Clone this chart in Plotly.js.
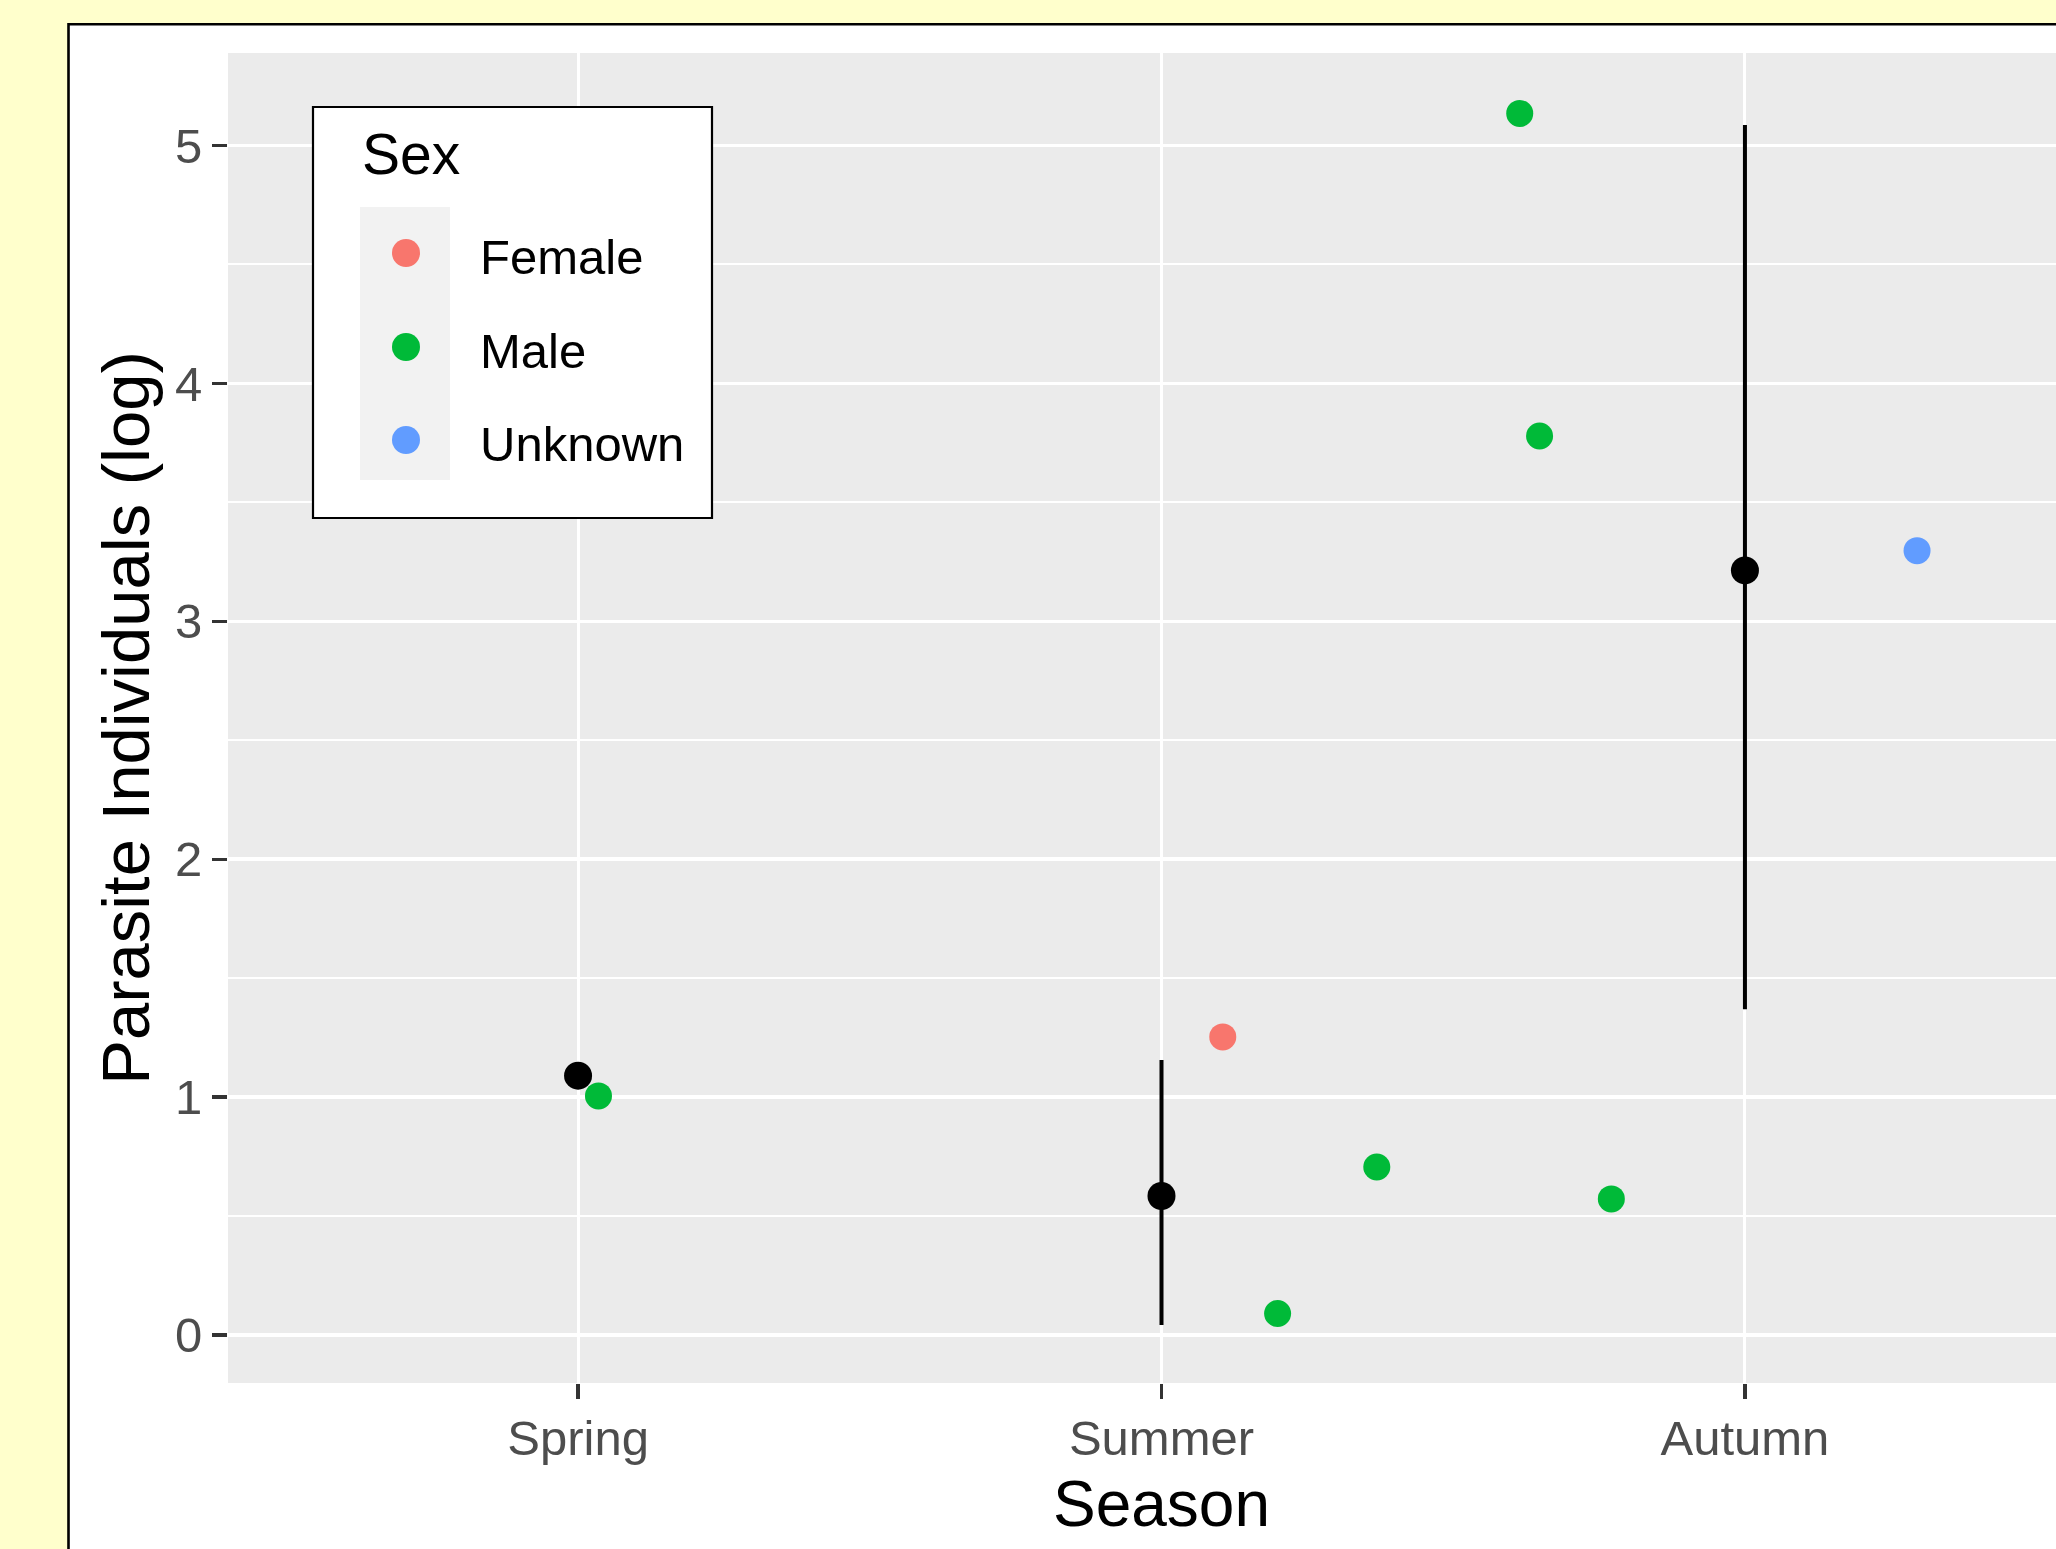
<!DOCTYPE html>
<html>
<head>
<meta charset="utf-8">
<script src="https://cdn.plot.ly/plotly-3.0.1.min.js"></script>
<style>
  html, body { margin: 0; padding: 0; background: #FFFFCC; overflow: hidden; }
  #chart { position: absolute; left: 0; top: 0; }
</style>
</head>
<body>
<div id="chart"></div>
<script>
// Seasons along the x axis (positions 0, 1, 2)
const seasons = ['Spring', 'Summer', 'Autumn'];

// Seasonal mean of log parasite counts with its interval
const meanY = [1.09, 0.584, 3.214];
const meanUpper = [null, 1.156, 5.086];
const meanLower = [null, 0.042, 1.369];

// Individual hosts, jittered around their season position
const sexLevels = ['Female', 'Male', 'Unknown'];
const sexColors = ['#F8766D', '#00BA38', '#619CFF'];
const femaleX = [1.105];
const femaleY = [1.253];
const maleX = [0.035, 1.199, 1.369, 1.771, 1.614, 1.648];
const maleY = [1.005, 0.090, 0.706, 0.572, 5.135, 3.779];
const unknownX = [2.295];
const unknownY = [3.297];

// Axis ticks
const yTicks = [0, 1, 2, 3, 4, 5];
const yMinor = [0.5, 1.5, 2.5, 3.5, 4.5];

const FONT = 'Liberation Sans, Arial, Helvetica, sans-serif';
const W = 2200, H = 1700;
const M = {l: 228, r: 105, t: 53, b: 317};
const PW = W - M.l - M.r, PH = H - M.t - M.b;
const px = v => (v - M.l) / PW;
const py = v => 1 - (v - M.t) / PH;

const seasonPos = seasons.map((_, i) => i);

const traces = [];

// black point-range per season (drawn first so the hosts sit on top)
traces.push({
  type: 'scatter', mode: 'markers',
  x: seasonPos, y: meanY,
  marker: {color: '#000000', size: 28, line: {width: 0}},
  error_y: {
    type: 'data', symmetric: false,
    array: meanUpper.map((u, i) => u == null ? 0 : u - meanY[i]),
    arrayminus: meanLower.map((l, i) => l == null ? 0 : meanY[i] - l),
    width: 0, thickness: 4, color: '#000000'
  },
  showlegend: false, hoverinfo: 'skip'
});

const sexX = [femaleX, maleX, unknownX];
const sexY = [femaleY, maleY, unknownY];
sexLevels.forEach((name, k) => {
  traces.push({
    type: 'scatter', mode: 'markers', name: name,
    x: sexX[k], y: sexY[k],
    marker: {color: sexColors[k], size: 27, line: {width: 0}},
    showlegend: false
  });
});

// frame, panel and the "Sex" key box
const shapes = [
  {type: 'rect', xref: 'paper', yref: 'paper', layer: 'below',
   x0: px(68.5), x1: px(2190), y0: py(24.3), y1: py(1690),
   fillcolor: '#FFFFFF', line: {color: '#000000', width: 2.6}},
  {type: 'rect', xref: 'paper', yref: 'paper', layer: 'below',
   x0: 0, x1: 1, y0: 0, y1: 1, fillcolor: '#EBEBEB', line: {width: 0}},
  {type: 'rect', xref: 'paper', yref: 'paper', layer: 'above',
   x0: px(313), x1: px(712), y0: py(107), y1: py(518),
   fillcolor: '#FFFFFF', line: {color: '#000000', width: 2.2}},
  {type: 'rect', xref: 'paper', yref: 'paper', layer: 'above',
   x0: px(360), x1: px(450), y0: py(207), y1: py(480),
   fillcolor: '#F2F2F2', line: {width: 0}}
];
const keyRows = [253, 347, 440];
const annotations = [
  {xref: 'paper', yref: 'paper', x: px(360), y: py(154), xanchor: 'left', yanchor: 'middle',
   text: 'Sex', showarrow: false, font: {family: FONT, size: 57, color: '#000000'}}
];
sexLevels.forEach((name, k) => {
  shapes.push({type: 'circle', xref: 'paper', yref: 'paper', layer: 'above',
    xsizemode: 'pixel', ysizemode: 'pixel',
    xanchor: px(406), yanchor: py(keyRows[k]),
    x0: -14, x1: 14, y0: -14, y1: 14,
    fillcolor: sexColors[k], line: {width: 0}});
  annotations.push({xref: 'paper', yref: 'paper', x: px(478), y: py(keyRows[k] + 4),
    xanchor: 'left', yanchor: 'middle', text: name, showarrow: false,
    font: {family: FONT, size: 49, color: '#000000'}});
});

const layout = {
  width: W, height: H, margin: M,
  paper_bgcolor: '#FFFFCC', plot_bgcolor: '#EBEBEB',
  font: {family: FONT, color: '#000000'},
  showlegend: false,
  xaxis: {
    range: [-0.6, 2.6], tickmode: 'array', tickvals: seasonPos, ticktext: seasons,
    showgrid: true, gridcolor: '#FFFFFF', gridwidth: 3,
    zeroline: false, showline: false,
    ticks: 'outside', ticklen: 15, tickwidth: 3.2, tickcolor: '#333333',
    tickfont: {family: FONT, size: 49, color: '#4D4D4D'},
    ticklabelstandoff: -3,
    title: {text: 'Season', font: {family: FONT, size: 64, color: '#000000'}, standoff: 17},
    automargin: false, fixedrange: true
  },
  yaxis: {
    range: [-0.202, 5.389], tickmode: 'array', tickvals: yTicks, ticktext: yTicks.map(String),
    showgrid: true, gridcolor: '#FFFFFF', gridwidth: 3.5,
    minor: {tickmode: 'array', tickvals: yMinor, showgrid: true, gridcolor: '#FFFFFF', gridwidth: 2, ticks: ''},
    zeroline: false, showline: false,
    ticks: 'outside', ticklen: 15, tickwidth: 3.2, tickcolor: '#333333',
    tickfont: {family: FONT, size: 49, color: '#4D4D4D'},
    title: {text: 'Parasite Individuals (log)', font: {family: FONT, size: 67, color: '#000000'}, standoff: 3},
    automargin: false, fixedrange: true
  },
  shapes: shapes,
  annotations: annotations
};

Plotly.newPlot('chart', traces, layout, {staticPlot: true, displayModeBar: false});
</script>
</body>
</html>
